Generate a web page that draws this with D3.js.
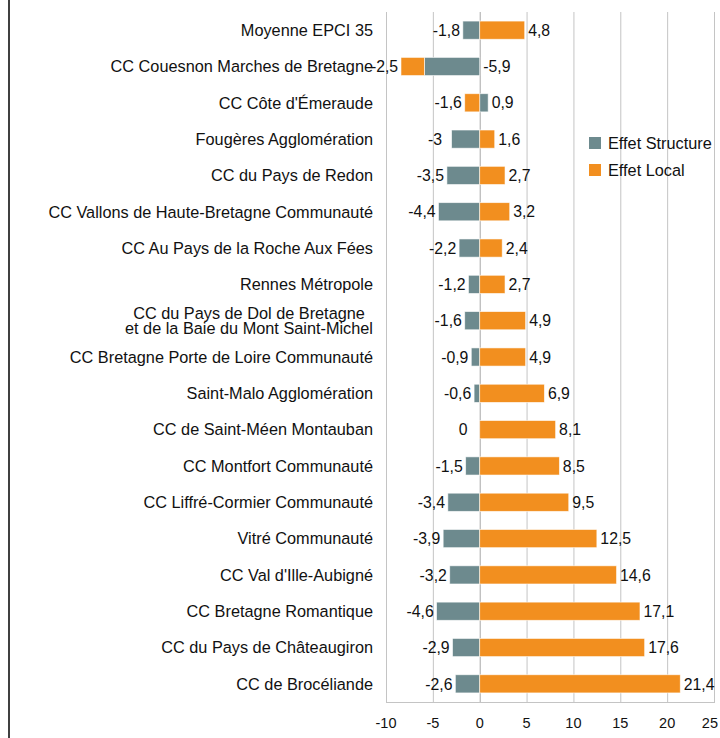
<!DOCTYPE html>
<meta charset="utf-8">
<style>
body { margin: 0; background: #fff; }
text { font-family: Helvetica, "Liberation Sans", Arial, sans-serif; fill: #111; }
.grid line { stroke: #c4c4c4; stroke-width: 1; }
.cat { font-size: 16.3px; }
.val { font-size: 15.8px; }
.tick-label { font-size: 14.5px; }
.legend text { font-size: 16.3px; }
</style>
<svg width="720" height="738"></svg>
<script src="https://d3js.org/d3.v7.min.js"></script>
<script>
// categories, top to bottom
var categories = [
  "Moyenne EPCI 35",
  "CC Couesnon Marches de Bretagne",
  "CC Côte d'Émeraude",
  "Fougères Agglomération",
  "CC du Pays de Redon",
  "CC Vallons de Haute-Bretagne Communauté",
  "CC Au Pays de la Roche Aux Fées",
  "Rennes Métropole",
  "CC du Pays de Dol de Bretagne\net de la Baie du Mont Saint-Michel",
  "CC Bretagne Porte de Loire Communauté",
  "Saint-Malo Agglomération",
  "CC de Saint-Méen Montauban",
  "CC Montfort Communauté",
  "CC Liffré-Cormier Communauté",
  "Vitré Communauté",
  "CC Val d'Ille-Aubigné",
  "CC Bretagne Romantique",
  "CC du Pays de Châteaugiron",
  "CC de Brocéliande"
];

var effetStructure = [-1.8, -5.9, 0.9, -3, -3.5, -4.4, -2.2, -1.2, -1.6, -0.9, -0.6, 0, -1.5, -3.4, -3.9, -3.2, -4.6, -2.9, -2.6];
var effetLocal     = [4.8, -2.5, -1.6, 1.6, 2.7, 3.2, 2.4, 2.7, 4.9, 4.9, 6.9, 8.1, 8.5, 9.5, 12.5, 14.6, 17.1, 17.6, 21.4];

var seriesNames = ["Effet Structure", "Effet Local"];
var seriesColors = ["#6d8a8e", "#f28f1f"];
var xTicks = [-10, -5, 0, 5, 10, 15, 20, 25];

var svg = d3.select("svg"),
    width = +svg.attr("width"),
    height = +svg.attr("height");

// french decimals, plain hyphen for minus
var fr = d3.formatLocale({decimal: ",", thousands: " ", grouping: [3], currency: ["", "€"], minus: "-"});
var fmt = fr.format("~g");

var x = d3.scaleLinear()
    .domain([-10, 25])
    .range([386, 714]);

var y = d3.scaleBand()
    .domain(categories)
    .range([12, 702])
    .paddingInner(0.5)
    .paddingOuter(0.25);

// frame line on the left
svg.append("line")
    .attr("x1", 9).attr("x2", 9)
    .attr("y1", 0).attr("y2", height)
    .attr("stroke", "#000")
    .attr("stroke-width", 1.5);

// gridlines
var grid = svg.append("g").attr("class", "grid");
grid.selectAll("line.v")
  .data(xTicks)
  .enter().append("line")
    .attr("class", "v")
    .attr("x1", function(d) { return x(d) + 0.5; })
    .attr("x2", function(d) { return x(d) + 0.5; })
    .attr("y1", y.range()[0])
    .attr("y2", y.range()[1])
    .style("stroke", function(d) { return d === 0 ? "#a8a8a8" : null; });

grid.append("line")
    .attr("x1", x(-10)).attr("x2", x(25) + 1)
    .attr("y1", y.range()[1] + 0.5).attr("y2", y.range()[1] + 0.5);

// tick labels (last one kept inside the page)
svg.append("g")
  .selectAll("text")
  .data(xTicks)
  .enter().append("text")
    .attr("class", "tick-label")
    .attr("x", function(d) { return x(d); })
    .attr("y", 728)
    .attr("text-anchor", "middle")
    .text(function(d) { return fmt(d); })
    .each(function() {
      var b = this.getBBox();
      if (b.x + b.width > width - 2) d3.select(this).attr("x", width - 2 - b.width / 2);
    });

// stacked data (diverging, structure first)
var rows = categories.map(function(c, i) {
  return {cat: c, "Effet Structure": effetStructure[i], "Effet Local": effetLocal[i]};
});

var stacked = d3.stack()
    .keys(seriesNames)
    .offset(d3.stackOffsetDiverging)(rows);

var layers = svg.append("g")
  .selectAll("g")
  .data(stacked)
  .enter().append("g")
    .attr("fill", function(d, i) { return seriesColors[i]; });

layers.selectAll("rect")
  .data(function(d) { return d; })
  .enter().append("rect")
    .attr("x", function(d) { return x(Math.min(d[0], d[1])); })
    .attr("width", function(d) { return Math.abs(x(d[1]) - x(d[0])); })
    .attr("y", function(d) { return y(d.data.cat); })
    .attr("height", y.bandwidth())
    .attr("stroke", "rgba(255,255,255,0.7)")
    .attr("stroke-width", 0.8);

// value labels: leftmost segment gets label on the left, the other on the right
var labels = svg.append("g");
rows.forEach(function(r, i) {
  var segs = stacked.map(function(s, k) {
    var d = s[i];
    return {k: k, lo: Math.min(d[0], d[1]), hi: Math.max(d[0], d[1]), v: r[seriesNames[k]]};
  });
  var left = segs[0].lo <= segs[1].lo ? segs[0] : segs[1];
  var right = left === segs[0] ? segs[1] : segs[0];
  var minX = d3.min(segs, function(s) { return s.lo; });
  var maxX = d3.max(segs, function(s) { return s.hi; });
  var cy = y(r.cat) + y.bandwidth() / 2;
  labels.append("text")
      .attr("class", "val")
      .attr("x", x(minX) - 16.5)
      .attr("y", cy)
      .attr("dy", "0.36em")
      .attr("text-anchor", "middle")
      .text(fmt(left.v));
  labels.append("text")
      .attr("class", "val")
      .attr("x", x(maxX) + 3.5)
      .attr("y", cy)
      .attr("dy", "0.36em")
      .attr("text-anchor", "start")
      .text(fmt(right.v));
});

// category labels
var cats = svg.append("g");
categories.forEach(function(c) {
  var lines = c.split("\n");
  var cy = y(c) + y.bandwidth() / 2;
  var t = cats.append("text")
      .attr("class", "cat")
      .attr("text-anchor", lines.length > 1 ? "middle" : "end")
      .attr("y", cy);
  if (lines.length === 1) {
    t.attr("x", 373).attr("dy", "0.36em").text(c);
  } else {
    lines.forEach(function(l, j) {
      t.append("tspan")
          .attr("x", 0)
          .attr("y", cy + (j - (lines.length - 1) / 2) * 15.5)
          .attr("dy", "0.36em")
          .text(l);
    });
    // center lines inside the block that ends at the right edge
    var w = t.node().getBBox().width;
    t.selectAll("tspan").attr("x", 373 - w / 2);
  }
});

// legend
var legend = svg.append("g").attr("class", "legend");
seriesNames.forEach(function(n, i) {
  var ly = 143 + i * 27;
  legend.append("rect")
      .attr("x", 589).attr("y", ly - 6)
      .attr("width", 12).attr("height", 12)
      .attr("fill", seriesColors[i]);
  legend.append("text")
      .attr("x", 608).attr("y", ly)
      .attr("dy", "0.36em")
      .text(n);
});
</script>
